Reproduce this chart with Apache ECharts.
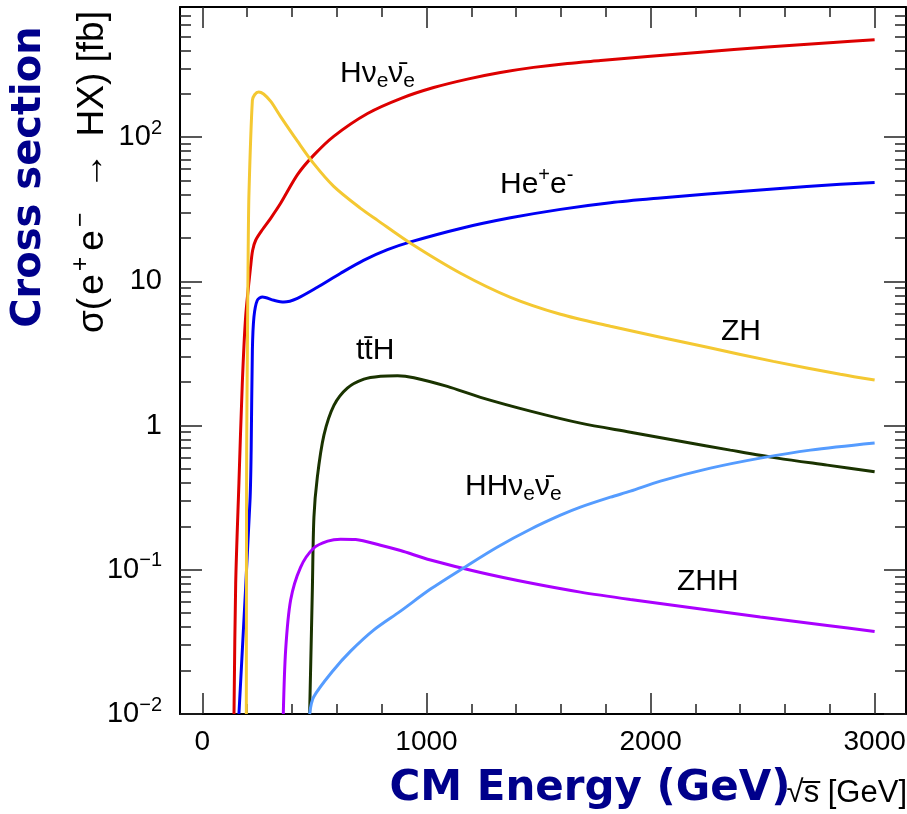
<!DOCTYPE html>
<html><head><meta charset="utf-8">
<script src="https://cdn.jsdelivr.net/npm/echarts@6/dist/echarts.min.js"></script>
<style>html,body{margin:0;padding:0;background:#fff}#c{width:907px;height:814px}</style>
</head><body><div id="c"></div>
<script>
// ---- data (sqrt(s) in GeV, cross section in fb) ----
const hnnE  = [141,148.5,163,178,193,215,224,237.7,269,304.6,349,425,496,586,737,887,1032,1183,1330,1478,1629,1777,2223,2521,2815,3000];
const hnnXS = [0.01,0.08,0.40,1.96,5.7,12.6,16.4,19.3,23.0,27.4,34.8,55.2,74.8,101.4,146,186,221,253,281,305,325,340,389,423,454,474];

const heeE  = [163,212.3,217.6,223,230,245,268,319,364,424,513,617,719,826,929,1152,1375,1598,1821,2044,2254,2548,2847,3000];
const heeXS = [0.01,0.30,0.68,3.33,5.67,7.4,7.8,7.4,7.2,7.64,9.10,11.4,14.0,16.6,18.8,23.3,27.6,31.6,35.1,37.9,40.4,43.8,47.1,48.6];

const zhE   = [196,196.5,197.5,200.7,204.3,207.8,223,233,251,273,305,349,425,496,586,706,782,929,1152,1375,1598,1821,2044,2254,2548,2847,3000];
const zhXS  = [0.01,0.08,0.68,3.33,16.4,40.8,180,197,206,199.5,177,139,93.5,65.8,45.6,32.1,26.5,18.4,11.4,7.76,5.92,4.89,4.10,3.49,2.79,2.27,2.07];

const tthE  = [478.5,490.6,497.7,512.9,542.3,586.9,646.7,720.7,795,871,944,1093,1241,1464,1687,1910,2133,2356,2566,2789,3000];
const tthXS = [0.01,0.072,0.232,0.439,0.858,1.38,1.82,2.10,2.20,2.22,2.15,1.87,1.57,1.26,1.04,0.900,0.779,0.676,0.595,0.532,0.479];

const zhhE  = [361,371.5,393.8,438,496,559,617,684,795,884,1018,1241,1464,1687,1910,2191,2490,2789,3000];
const zhhXS = [0.01,0.0278,0.0617,0.104,0.141,0.158,0.163,0.162,0.148,0.136,0.117,0.0957,0.0809,0.070,0.0622,0.0543,0.0470,0.0411,0.0373];

const hhnnE  = [478.5,496.4,585.6,661.4,764,884,1018,1165,1317,1464,1598,1687,1821,1910,2044,2267,2490,2713,3000];
const hhnnXS = [0.01,0.0131,0.0202,0.0273,0.0382,0.0517,0.0735,0.103,0.144,0.191,0.239,0.272,0.319,0.351,0.412,0.507,0.595,0.676,0.757];

// ---- ticks ----
const xMajorTicks = [0,1000,2000,3000];
const xTickLabels = ['0','1000','2000','3000'];
const xMinorTicks = [200,400,600,800,1200,1400,1600,1800,2200,2400,2600,2800];
const yMajorTicks = [0.01,0.1,1,10,100];
const yTickLabels = ['{n|10}{s|\u22122}','{n|10}{s|\u22121}','{n|1}','{n|10}','{n|10}{s|2}'];
const yMinorTicks = [0.02,0.03,0.04,0.05,0.06,0.07,0.08,0.09,
                     0.2,0.3,0.4,0.5,0.6,0.7,0.8,0.9,
                     2,3,4,5,6,7,8,9,
                     20,30,40,50,60,70,80,90,
                     200,300,400,500,600,700];

const FONT = '"Liberation Sans", Arial, Helvetica, sans-serif';
const BOLD = '"DejaVu Sans", Verdana, sans-serif';
const NAVY = '#00008b';
const TICK = '#222';

function pairs(e, v) { return e.map((x, i) => [x, v[i]]); }

const chart = echarts.init(document.getElementById('c'), null, {renderer: 'canvas', width: 907, height: 814});

const xBase = {type: 'value', min: -100, max: 3140, splitLine: {show: false},
  axisLabel: {show: false}, axisLine: {show: false, onZero: false}};
const yBase = {type: 'log', logBase: 10, min: 0.01, max: 800, splitLine: {show: false},
  axisLabel: {show: false}, axisLine: {show: false, onZero: false}};
const frameLine = {show: true, onZero: false, lineStyle: {color: '#000', width: 2}};
const majTick = (vals, len) => ({show: true, inside: true, length: len, customValues: vals, lineStyle: {color: TICK, width: 1.5}});

function series(name, e, v, color) {
  return {name, type: 'line', data: pairs(e, v), xAxisIndex: 0, yAxisIndex: 0,
    showSymbol: false, symbol: 'none', smooth: 0.3, clip: true, silent: true,
    lineStyle: {color, width: 3}, itemStyle: {color}};
}

const lblRich = {
  n:   {fontSize: 30, fontFamily: FONT, fill: '#000', color: '#000'},
  sub: {fontSize: 21, fontFamily: FONT, fill: '#000', color: '#000', padding: [14, 0, 0, 0]},
  sup: {fontSize: 20, fontFamily: FONT, fill: '#000', color: '#000', padding: [0, 0, 20, 0]}
};
function label(x, y, text) {
  return {type: 'text', x, y, silent: true, z: 100,
    style: {text, x: 0, y: 0, align: 'left', verticalAlign: 'middle', rich: lblRich,
      fontSize: 30, fontFamily: FONT, fill: '#000'}};
}

const option = {
  animation: false,
  backgroundColor: '#fff',
  grid: {left: 180, right: 1, top: 7, bottom: 100, containLabel: false, outerBoundsMode: 'none'},
  xAxis: [
    Object.assign({}, xBase, {position: 'bottom', axisLine: frameLine, axisTick: majTick(xMajorTicks, 21),
      axisLabel: {show: true, customValues: xMajorTicks, margin: 14, fontSize: 28, fontFamily: FONT, color: '#000',
        formatter: v => xTickLabels[xMajorTicks.indexOf(v)]}}),
    Object.assign({}, xBase, {position: 'bottom', axisTick: majTick(xMinorTicks, 10)}),
    Object.assign({}, xBase, {position: 'top', axisLine: frameLine, axisTick: majTick(xMajorTicks, 21)}),
    Object.assign({}, xBase, {position: 'top', axisTick: majTick(xMinorTicks, 10)})
  ],
  yAxis: [
    Object.assign({}, yBase, {position: 'left', axisLine: frameLine, axisTick: majTick(yMajorTicks, 22),
      axisLabel: {show: true, customValues: yMajorTicks, margin: 18, fontSize: 29, fontFamily: FONT, color: '#000',
        formatter: v => { const i = yMajorTicks.findIndex(t => Math.abs(Math.log10(t) - Math.log10(v)) < 1e-6); return i >= 0 ? yTickLabels[i] : ''; },
        rich: {n: {fontSize: 29, fontFamily: FONT, color: '#000'},
               s: {fontSize: 20, fontFamily: FONT, color: '#000', padding: [0, 0, 18, 0]}}}}),
    Object.assign({}, yBase, {position: 'left', axisTick: majTick(yMinorTicks, 11)}),
    Object.assign({}, yBase, {position: 'right', axisLine: frameLine, axisTick: majTick(yMajorTicks, 22)}),
    Object.assign({}, yBase, {position: 'right', axisTick: majTick(yMinorTicks, 11)})
  ],
  series: [
    series('H\u03bde\u03bd\u0304e', hnnE, hnnXS, '#dd0000'),
    series('He+e-', heeE, heeXS, '#0000f5'),
    series('ZH', zhE, zhXS, '#f4c832'),
    series('ttH', tthE, tthXS, '#1a3300'),
    series('ZHH', zhhE, zhhXS, '#aa00ff'),
    series('HH\u03bde\u03bd\u0304e', hhnnE, hhnnXS, '#559cff')
  ],
  graphic: [
    {type: 'text', x: 30, y: 177, rotation: Math.PI / 2, silent: true,
      style: {text: 'Cross section', x: 0, y: 0, align: 'center', verticalAlign: 'middle',
        fontSize: 40, fontWeight: 'bold', fontFamily: BOLD, fill: NAVY}},
    {type: 'text', x: 93, y: 172, rotation: Math.PI / 2, silent: true,
      style: {text: '{a|\u03c3(}{e|e}{s|+}{e|e}{s|\u2212}{r|\u2192}{a|HX) [fb]}', x: 0, y: 0, align: 'center', verticalAlign: 'middle',
        fontSize: 37, fontFamily: FONT, fill: '#000',
        rich: {a: {fontSize: 37, fontFamily: FONT, fill: '#000', color: '#000'},
               e: {fontSize: 37, fontFamily: FONT, fill: '#000', color: '#000', padding: [0, 2, 0, 3]},
               r: {fontSize: 37, fontFamily: FONT, fill: '#000', color: '#000', padding: [0, 16, 0, 20]},
               s: {fontSize: 25, fontFamily: FONT, fill: '#000', color: '#000', padding: [0, 3, 24, 1]}}}},
    {type: 'text', x: 590, y: 789, silent: true,
      style: {text: 'CM Energy (GeV)', x: 0, y: 0, align: 'center', verticalAlign: 'middle',
        fontSize: 42, fontWeight: 'bold', fontFamily: BOLD, fill: NAVY}},
    {type: 'text', x: 907, y: 793, silent: true, z: -1,
      style: {text: '\u221as\u0305 [GeV]', x: 0, y: 0, align: 'right', verticalAlign: 'middle',
        fontSize: 31, fontFamily: FONT, fill: '#000'}},
    label(340, 74, '{n|H\u03bd}{sub|e}{n|\u03bd\u0304}{sub|e}'),
    label(500, 185, '{n|He}{sup|+}{n|e}{sup|-}'),
    label(721, 332, '{n|ZH}'),
    label(356, 351, '{n|tt\u0304H}'),
    label(465, 487, '{n|HH\u03bd}{sub|e}{n|\u03bd\u0304}{sub|e}'),
    label(677, 582, '{n|ZHH}')
  ]
};
chart.setOption(option);
</script>
</body></html>
